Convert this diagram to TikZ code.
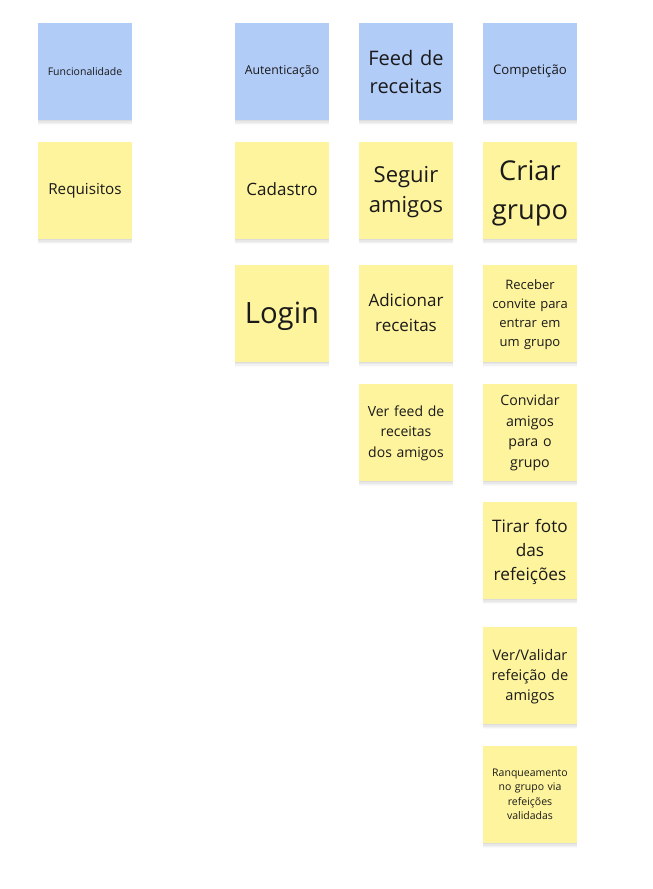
\documentclass[tikz,border=0pt]{standalone}
\usepackage{fontspec}
\setmainfont{Open Sans}
\usetikzlibrary{shadows}
\definecolor{noteblue}{HTML}{B2CCF8}
\definecolor{noteyellow}{HTML}{FEF49D}
\definecolor{ink}{HTML}{1A1A1A}
\tikzset{
  note/.style={minimum width=94pt, minimum height=97pt, inner sep=0pt,
    general shadow={fill=black, opacity=0.02, shadow yshift=-6pt, shadow scale=0.99},
    general shadow={fill=black, opacity=0.03, shadow yshift=-4pt},
    general shadow={fill=black, opacity=0.04, shadow yshift=-2.5pt},
    general shadow={fill=black, opacity=0.05, shadow yshift=-1.2pt}},
  bluenote/.style={note, fill=noteblue},
  yellownote/.style={note, fill=noteyellow},
  notetext/.style={align=center, text width=88pt, text=ink, inner sep=0pt}
}
\begin{document}
\begin{tikzpicture}[x=1pt,y=-1pt]
\useasboundingbox (0,0) rectangle (653,889);
\fill[white] (0,0) rectangle (653,889);
% row 1
\node[bluenote, label={[notetext, font=\fontsize{10.5}{14}\selectfont]center:Funcionalidade}] (func) at (85,71.5) {};
\node[bluenote, label={[notetext, font=\fontsize{12.3}{16}\selectfont]center:Autenticação}] (aut) at (282,71.5) {};
\node[bluenote, label={[notetext, font=\fontsize{20}{28}\selectfont, yshift=-0.5pt]center:{Feed de\\receitas}}] (feed) at (406,71.5) {};
\node[bluenote, label={[notetext, font=\fontsize{13.2}{16}\selectfont]center:Competição}] (comp) at (530,71.5) {};
% row 2
\node[yellownote, label={[notetext, font=\fontsize{15.2}{19}\selectfont, yshift=-0.5pt]center:Requisitos}] (req) at (85,190.5) {};
\node[yellownote, label={[notetext, font=\fontsize{17}{21}\selectfont, yshift=1pt]center:Cadastro}] (cad) at (282,190.5) {};
\node[yellownote, label={[notetext, font=\fontsize{22}{30}\selectfont, yshift=-1.5pt]center:{Seguir\\amigos}}] (seg) at (406,190.5) {};
\node[yellownote, label={[notetext, font=\fontsize{27.3}{39}\selectfont, yshift=-3pt]center:{Criar\\grupo}}] (criar) at (530,190.5) {};
% row 3
\node[yellownote, label={[notetext, font=\fontsize{29.3}{36}\selectfont, yshift=-3pt]center:Login}] (login) at (282,313) {};
\node[yellownote, label={[notetext, font=\fontsize{17}{25}\selectfont]center:{Adicionar\\receitas}}] (adic) at (406,313) {};
\node[yellownote, label={[notetext, font=\fontsize{13}{19}\selectfont, yshift=-2pt]center:{Receber\\convite para\\entrar em\\um grupo}}] (receb) at (530,313) {};
% row 4
\node[yellownote, label={[notetext, font=\fontsize{14}{20.5}\selectfont, yshift=-0.5pt]center:{Ver feed de\\receitas\\dos amigos}}] (verfeed) at (406,432.5) {};
\node[yellownote, label={[notetext, font=\fontsize{14.2}{20.5}\selectfont, yshift=-0.5pt]center:{Convidar\\amigos\\para o\\grupo}}] (conv) at (530,432.5) {};
% col 4 lower
\node[yellownote, label={[notetext, font=\fontsize{17.2}{24}\selectfont, yshift=-1pt]center:{Tirar foto\\das\\refeições}}] (tirar) at (530,550.5) {};
\node[yellownote, label={[notetext, font=\fontsize{14.6}{20}\selectfont, yshift=-1pt]center:{Ver/Validar\\refeição de\\amigos}}] (verval) at (530,675.5) {};
\node[yellownote, label={[notetext, font=\fontsize{10.5}{14.5}\selectfont]center:{Ranqueamento\\no grupo via\\refeições\\validadas}}] (ranq) at (530,794.5) {};
\end{tikzpicture}
\end{document}
